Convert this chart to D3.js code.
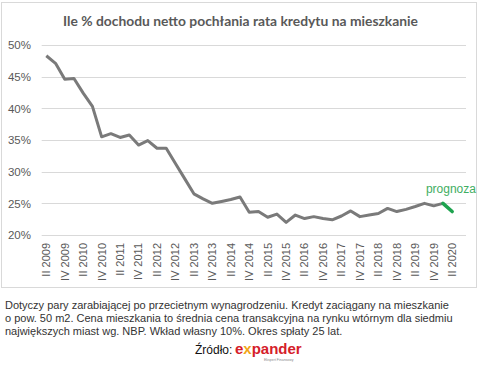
<!DOCTYPE html>
<html><head><meta charset="utf-8">
<script src="https://cdn.jsdelivr.net/npm/d3@7"></script>
<style>
html,body{margin:0;padding:0;background:#fff;}
svg{display:block;}
</style></head>
<body>
<svg id="c" width="481" height="369"></svg>
<script>
const title = "Ile % dochodu netto pochłania rata kredytu na mieszkanie";
const categories = [
 "II 2009","III 2009","IV 2009","I 2010","II 2010","III 2010","IV 2010","I 2011","II 2011","III 2011","IV 2011",
 "I 2012","II 2012","III 2012","IV 2012","I 2013","II 2013","III 2013","IV 2013","I 2014","II 2014","III 2014","IV 2014",
 "I 2015","II 2015","III 2015","IV 2015","I 2016","II 2016","III 2016","IV 2016","I 2017","II 2017","III 2017","IV 2017",
 "I 2018","II 2018","III 2018","IV 2018","I 2019","II 2019","III 2019","IV 2019","I 2020","II 2020","III 2020"
];
const tickLabels = ["II 2009","IV 2009","II 2010","IV 2010","II 2011","IV 2011","II 2012","IV 2012","II 2013","IV 2013",
 "II 2014","IV 2014","II 2015","IV 2015","II 2016","IV 2016","II 2017","IV 2017","II 2018","IV 2018","II 2019","IV 2019","II 2020"];
const historical = [48.3,47.1,44.6,44.7,42.4,40.3,35.5,36.0,35.4,35.8,34.2,34.9,33.7,33.7,31.3,28.9,26.5,25.7,25.0,25.3,25.6,26.0,
 23.6,23.7,22.8,23.3,22.0,23.15,22.6,22.9,22.6,22.4,23.0,23.8,22.9,23.15,23.4,24.2,23.7,24.05,24.5,25.0,24.6,25.0];
const forecastCats = ["I 2020","II 2020"];
const forecast = [25.0,23.7];
const yTicks = [20,25,30,35,40,45,50];
const forecastLabel = "prognoza";
const notes = [
 "Dotyczy pary zarabiającej po przecietnym wynagrodzeniu. Kredyt zaciągany na mieszkanie",
 "o pow. 50 m2. Cena mieszkania to średnia cena transakcyjna na rynku wtórnym dla siedmiu",
 "największych miast wg. NBP. Wkład własny 10%. Okres spłaty 25 lat."
];

const svg = d3.select("#c");
// chart frame
svg.append("rect").attr("x",1.5).attr("y",2.5).attr("width",475).attr("height",285)
  .attr("fill","#fff").attr("stroke","#d9d9d9");

const x = d3.scaleBand().domain(categories).range([41.7,466]);
const y = d3.scaleLinear().domain([20,50]).range([235,45]);
const cx = c => x(c) + x.bandwidth()/2;

// gridlines
svg.append("g").selectAll("line").data(yTicks).join("line")
  .attr("x1",41.7).attr("x2",466).attr("y1",d=>Math.round(y(d))+0.5).attr("y2",d=>Math.round(y(d))+0.5)
  .attr("stroke","#d9d9d9").attr("stroke-width",1);

// y axis labels
const yAxis = d3.axisLeft(y).tickValues(yTicks).tickSize(0).tickPadding(0).tickFormat(d=>d+"%");
const gy = svg.append("g").attr("transform","translate(31,0)").call(yAxis);
gy.select(".domain").remove();
gy.selectAll("text").attr("font-family","Liberation Sans, Arial, sans-serif").attr("font-size","11.5px").attr("fill","#595959");

// x axis labels
const xAxis = d3.axisBottom(x).tickValues(tickLabels).tickSize(0).tickPadding(0);
const gx = svg.append("g").attr("transform","translate(0,243)").call(xAxis);
gx.select(".domain").remove();
gx.selectAll("text").attr("font-family","Liberation Sans, Arial, sans-serif").attr("font-size","11px").attr("fill","#595959")
  .attr("text-anchor","end").attr("transform","rotate(-90)").attr("x",0).attr("y",0).attr("dy","0.35em");

// lines
const line = d3.line().x(d=>cx(d[0])).y(d=>y(d[1]));
svg.append("path").datum(historical.map((v,i)=>[categories[i],v]))
  .attr("d",line).attr("fill","none").attr("stroke","#7a7a7a").attr("stroke-width",3).attr("stroke-linejoin","round");
svg.append("path").datum(forecast.map((v,i)=>[forecastCats[i],v]))
  .attr("d",line).attr("fill","none").attr("stroke","#1ea34f").attr("stroke-width",3.5).attr("stroke-linecap","round");

svg.append("text").attr("x",cx(forecastCats[0])+8).attr("y",y(forecast[0])-10).attr("text-anchor","middle")
  .attr("font-family","Liberation Sans, Arial, sans-serif").attr("font-size","12px").attr("fill","#3fae62").text(forecastLabel);

// title
svg.append("text").attr("x",240.5).attr("y",26).attr("text-anchor","middle")
  .attr("font-family","Lato, Liberation Sans, sans-serif").attr("font-weight","bold").attr("font-size","14px")
  .attr("fill","#595959").attr("textLength",355).attr("lengthAdjust","spacingAndGlyphs").text(title);

// notes
svg.append("g").selectAll("text").data(notes).join("text")
  .attr("x",5).attr("y",(d,i)=>309+i*13)
  .attr("font-family","Liberation Sans, Arial, sans-serif").attr("font-size","11px").attr("fill","#333")
  .text(d=>d);

// source
svg.append("text").attr("x",195).attr("y",354).attr("font-family","Liberation Sans, Arial, sans-serif")
  .attr("font-size","12px").attr("fill","#111").text("Źródło:");
const logo = svg.append("text").attr("x",235).attr("y",354).attr("font-family","Liberation Sans, Arial, sans-serif")
  .attr("font-size","15px").attr("font-weight","bold").attr("fill","#d5202a");
logo.append("tspan").text("e");
logo.append("tspan").attr("fill","#f2a516").text("x");
logo.append("tspan").text("pander");
svg.append("text").attr("x",264).attr("y",361).attr("font-family","Liberation Sans, Arial, sans-serif")
  .attr("font-size","3.5px").attr("fill","#888").text("Ekspert Finansowy");
</script>
</body></html>
